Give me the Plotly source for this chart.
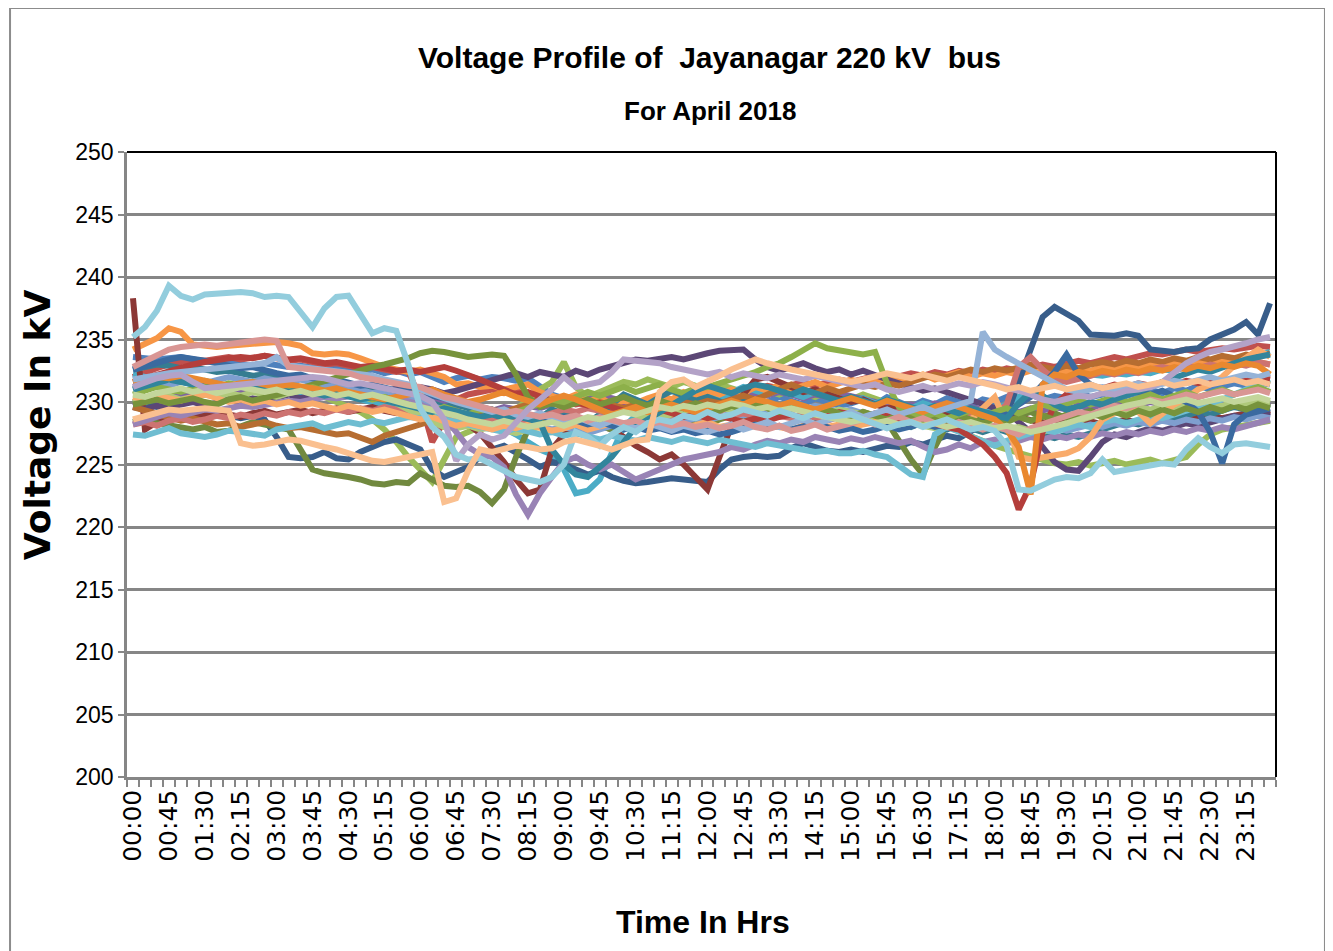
import plotly.graph_objects as go

# ---- categories (15-minute blocks) ----
times = [f"{h:02d}:{m:02d}" for h in range(24) for m in (0, 15, 30, 45)]
tick_labels = [t if i % 3 == 0 else "" for i, t in enumerate(times)]

# ---- series values (kV), one list per day ----
d01 = [233.6,233.5,233.4,233.5,233.6,233.4,233.2,233.3,233.2,233.0,232.9,233.1,
       233.0,232.8,232.9,232.7,232.6,232.8,232.5,232.4,232.6,232.3,232.5,232.2,
       232.4,232.0,231.6,231.9,232.1,231.8,232.0,231.9,231.7,231.9,231.2,230.6,
       230.3,230.0,229.8,230.1,229.6,229.9,229.5,229.7,229.3,229.8,229.6,229.4,
       229.7,229.5,229.9,230.2,229.8,230.0,230.4,230.1,229.8,230.3,230.0,229.7,
       229.9,230.2,229.8,230.4,230.0,229.6,230.1,229.8,230.3,230.0,229.7,230.2,
       230.0,230.4,230.1,230.6,230.2,230.5,230.3,230.8,230.4,230.6,230.9,230.5,
       230.8,231.0,230.7,231.1,230.9,231.3,231.0,231.2,231.5,231.3,231.6,231.4]
d02 = [232.0,232.4,232.7,233.0,233.2,233.4,233.3,233.5,233.6,233.4,233.5,233.7,
       233.5,233.3,233.4,233.2,233.0,233.1,232.9,232.7,232.8,232.6,232.4,232.5,
       230.2,226.8,228.4,230.2,230.6,230.8,231.0,230.7,230.9,230.5,230.2,230.4,
       230.1,229.8,230.0,229.7,229.4,229.6,229.3,229.5,229.2,229.0,229.3,229.6,
       229.9,230.2,230.5,230.8,231.0,231.3,231.1,231.4,231.6,231.3,231.5,231.8,
       231.6,231.9,232.1,231.8,232.0,232.3,232.1,232.4,232.2,232.5,232.3,232.6,
       232.4,232.7,232.5,232.8,233.0,232.8,233.1,233.3,233.1,233.4,233.6,233.4,
       233.7,233.9,233.8,234.0,234.2,234.0,234.1,234.3,234.2,234.4,234.5,234.4]
d03 = [230.0,230.3,230.6,230.4,230.7,230.9,230.6,230.8,231.1,230.9,231.2,231.0,
       230.8,231.1,230.9,230.6,230.4,230.0,229.6,229.2,228.6,227.8,226.8,225.6,
       224.6,223.6,225.4,227.2,227.6,228.0,228.4,228.8,229.4,230.2,231.0,231.6,
       233.2,231.2,230.4,230.8,231.2,231.6,231.4,231.8,231.5,231.2,231.6,231.3,
       231.0,231.4,231.1,230.8,231.2,230.9,230.6,231.0,230.7,230.4,230.8,230.5,
       230.2,230.6,230.3,230.0,229.6,229.2,228.8,228.4,228.0,227.6,227.2,226.8,
       226.5,226.2,225.9,225.6,225.3,225.1,225.0,225.2,224.9,225.1,225.3,225.0,
       225.2,225.4,225.1,225.3,225.6,226.6,227.4,227.8,228.0,228.2,228.4,228.5]
d04 = [230.0,229.8,230.1,230.3,230.5,230.4,230.6,230.8,230.7,231.0,230.9,231.1,
       231.0,230.8,231.0,230.7,230.9,230.6,230.8,230.5,230.3,230.5,230.2,230.0,
       229.8,230.1,229.9,229.6,229.8,229.5,229.3,229.6,229.4,229.7,229.5,229.8,
       230.1,229.9,230.2,230.5,230.3,230.0,229.8,230.1,229.9,230.2,230.4,230.2,
       230.5,230.3,230.6,230.4,230.7,230.5,230.8,230.6,230.3,230.6,230.4,230.7,
       230.5,230.2,230.0,229.7,229.5,229.8,229.6,229.9,229.7,229.4,229.6,229.3,
       229.1,229.4,229.2,229.5,229.3,229.6,229.4,229.7,229.5,229.8,229.6,229.9,
       229.7,230.0,229.8,229.6,229.4,229.7,229.5,229.8,229.6,229.9,229.7,230.0]
d05 = [232.2,232.0,231.8,231.9,231.6,231.4,231.6,231.3,231.1,231.3,231.0,230.8,
       231.0,230.7,230.5,230.8,230.6,230.3,230.5,230.2,230.0,229.7,229.9,229.6,
       229.4,229.1,228.8,228.5,228.7,228.4,228.2,227.9,227.4,226.8,226.2,225.8,
       224.6,222.7,222.9,223.8,225.8,228.0,228.9,229.4,229.8,230.2,229.9,230.4,
       230.6,230.3,230.8,231.2,230.9,230.6,231.0,230.7,230.4,230.8,230.5,230.2,
       230.0,230.3,229.9,230.2,229.8,229.5,229.9,229.6,229.3,229.7,229.4,229.1,
       229.5,229.8,230.4,230.8,231.2,231.5,231.8,232.0,232.2,232.1,232.3,232.2,
       232.4,232.3,232.6,232.5,232.8,232.7,233.0,232.9,233.2,233.5,233.8,234.0]
d06 = [234.2,234.6,235.1,235.9,235.6,234.6,234.5,234.4,234.5,234.6,234.7,234.8,
       234.8,234.7,234.5,233.9,233.8,233.9,233.8,233.5,233.1,232.8,232.6,232.4,
       232.6,232.3,232.0,231.4,231.5,231.2,231.3,231.0,231.2,231.4,230.8,230.5,
       230.2,230.6,230.0,230.4,229.8,230.1,229.9,230.3,230.6,230.2,230.8,230.4,
       230.9,230.6,231.0,230.7,231.2,230.9,231.4,231.0,231.3,231.6,231.2,231.5,
       231.8,231.4,231.7,232.0,231.6,231.9,232.2,231.8,232.1,232.4,232.0,232.3,
       232.1,232.4,232.2,232.5,232.3,232.6,232.4,232.7,232.5,232.8,232.6,232.9,
       232.7,233.0,232.8,233.1,232.9,233.2,233.0,233.3,233.1,233.4,233.2,233.0]
d07 = [230.2,230.0,229.6,229.2,228.8,229.0,229.3,229.1,228.9,228.7,228.9,228.6,
       227.2,225.6,225.5,225.6,226.0,225.5,225.4,226.0,226.4,226.8,227.0,226.6,
       226.2,224.6,224.0,224.4,224.8,225.6,226.2,226.5,226.0,225.4,224.8,225.2,
       225.0,224.6,224.2,224.5,224.0,223.7,223.5,223.6,223.8,223.9,223.8,223.7,
       223.6,224.6,225.4,225.6,225.7,225.6,225.7,226.3,226.7,226.4,226.1,226.0,
       226.2,226.0,226.3,226.5,226.4,226.8,226.6,227.0,227.3,227.1,227.6,228.2,
       227.8,229.0,231.6,234.2,236.8,237.6,237.0,236.5,235.4,235.3,235.3,235.5,
       235.3,234.2,234.1,234.0,234.2,234.3,235.0,235.4,235.8,236.4,235.4,237.9]
d08 = [238.3,227.8,228.4,228.8,229.0,228.7,228.9,229.2,229.0,228.8,229.1,229.3,
       229.0,229.2,229.4,229.1,229.3,229.5,229.2,229.4,229.6,229.3,229.1,229.4,
       229.2,228.9,229.1,228.6,228.2,227.5,226.4,225.2,223.8,222.7,223.0,226.2,
       227.4,228.0,228.4,228.1,227.8,227.2,226.5,226.0,225.4,225.8,225.0,224.0,
       223.0,225.6,228.0,230.6,231.8,232.0,231.6,231.2,230.8,231.0,230.6,230.3,
       230.0,230.2,229.8,229.5,229.7,229.4,229.1,229.3,229.0,228.8,229.1,228.7,
       228.9,228.6,228.8,228.5,228.3,228.6,228.4,228.7,228.5,228.2,228.4,228.6,
       228.3,228.5,228.7,228.4,228.6,228.8,229.0,228.7,228.9,229.1,229.3,229.0]
d09 = [228.4,228.6,228.3,228.1,227.9,227.8,228.0,227.6,227.7,228.1,228.4,228.2,
       228.0,227.8,226.2,224.6,224.3,224.2,224.0,223.8,223.5,223.4,223.6,223.5,
       224.3,223.8,223.3,223.2,223.3,222.8,221.9,223.0,225.6,227.8,228.2,228.6,
       228.3,228.0,228.4,228.1,227.8,228.2,228.5,228.3,228.0,228.4,228.7,228.5,
       228.2,228.6,228.9,228.7,228.4,228.8,229.1,228.9,228.6,229.0,229.3,229.1,
       228.8,229.2,228.9,228.4,226.8,225.4,224.2,226.4,228.2,228.6,228.9,228.5,
       228.8,228.6,228.9,229.2,228.8,229.1,228.7,229.0,229.3,228.9,229.2,229.0,
       229.3,229.1,229.4,229.2,229.5,229.3,229.6,229.4,229.7,229.5,229.8,229.6]
d10 = [229.6,229.4,229.7,229.5,229.8,230.0,229.7,229.9,230.2,230.0,230.3,230.1,
       230.4,230.6,230.3,230.5,230.8,230.6,230.9,230.7,231.0,230.8,231.1,230.9,
       231.2,231.0,230.7,230.9,231.2,231.5,231.8,232.1,232.3,232.0,232.4,232.2,
       232.0,232.5,232.2,232.6,232.9,233.2,233.4,233.3,233.5,233.6,233.4,233.7,
       233.9,234.1,234.2,234.2,233.4,232.8,232.5,232.8,233.1,232.7,232.4,232.6,
       232.2,232.5,232.1,231.8,231.5,231.2,230.9,231.1,230.8,230.5,230.2,229.8,
       229.5,229.2,228.4,227.6,226.4,225.2,224.6,224.5,225.6,226.8,227.4,227.2,
       227.6,227.9,227.7,228.0,228.3,228.1,228.4,228.6,228.9,228.7,229.0,229.2]
d11 = [232.6,232.8,233.0,232.9,232.7,232.8,232.6,232.4,232.5,232.3,232.1,232.2,
       232.0,231.8,231.9,231.6,231.4,231.5,231.2,231.0,230.8,230.9,230.6,230.4,
       230.2,229.9,229.6,229.8,229.5,229.2,229.4,229.1,228.8,229.0,228.7,229.4,
       229.0,228.6,228.3,229.0,229.8,230.6,230.2,229.8,230.4,230.9,230.5,230.1,
       230.4,230.0,229.7,230.1,229.8,229.5,229.2,229.6,229.3,229.0,229.4,229.1,
       228.8,228.5,228.9,228.6,228.3,228.0,228.4,228.1,227.8,228.2,227.9,227.6,
       227.9,227.6,227.3,227.6,227.3,227.1,227.4,227.2,227.5,227.8,228.1,228.4,
       228.2,228.5,228.8,228.6,228.9,229.2,229.0,229.3,229.6,229.4,229.7,229.5]
d12 = [229.6,229.3,229.0,228.8,228.5,228.7,228.4,228.2,228.3,228.0,228.2,228.4,
       228.1,227.9,228.0,227.8,227.6,227.4,227.5,227.2,226.8,227.3,227.6,227.9,
       228.2,228.5,228.3,228.6,228.8,229.1,229.4,229.2,229.5,229.8,230.1,229.9,
       230.2,230.0,229.7,230.0,229.8,229.5,229.8,229.6,229.9,229.7,230.0,229.8,
       230.1,229.9,230.2,230.5,230.2,230.6,230.9,231.4,231.0,230.7,231.1,230.8,
       231.1,231.4,231.2,231.5,231.3,231.6,231.9,232.2,232.0,232.3,232.6,232.4,
       232.7,232.5,232.8,233.0,232.8,232.6,232.9,232.7,233.0,233.2,233.0,233.3,
       233.1,233.4,233.2,233.5,233.3,233.6,233.4,233.7,233.5,233.8,233.6,233.9]
d13 = [231.4,231.2,231.5,231.3,231.6,231.8,231.5,231.7,232.0,231.8,231.6,231.9,
       231.7,231.5,231.8,231.6,231.3,231.5,231.2,231.0,230.7,230.9,230.6,230.3,
       230.0,229.7,229.4,229.1,228.8,228.5,228.7,228.4,228.1,228.3,228.0,227.8,
       228.0,227.7,227.5,227.8,228.1,227.9,228.2,228.5,228.3,228.6,228.4,228.7,
       228.5,228.8,229.1,228.9,229.2,229.0,229.3,229.6,229.4,229.7,229.5,229.2,
       229.4,229.1,228.8,229.0,228.7,228.4,228.6,228.3,228.5,228.2,227.9,228.1,
       227.8,228.0,227.7,227.5,227.8,228.0,227.7,227.9,228.2,228.0,228.3,228.1,
       228.4,228.2,228.5,228.3,228.6,228.4,228.7,228.5,228.8,228.6,228.9,228.7]
d14 = [228.2,228.4,228.1,228.5,228.7,228.4,228.6,228.9,228.7,229.0,228.8,229.1,
       228.9,229.2,229.0,229.3,229.1,229.4,229.2,229.5,229.3,229.6,229.4,229.2,
       229.0,228.8,229.0,228.7,228.5,228.8,228.6,228.4,228.7,228.5,228.8,229.1,
       229.4,229.2,229.5,229.3,229.0,229.3,229.1,228.8,229.1,228.9,229.2,229.0,
       228.7,229.0,228.8,229.1,228.9,228.6,228.9,228.7,229.0,228.8,228.5,228.8,
       228.6,228.9,228.7,229.0,229.2,228.9,228.6,228.4,228.1,228.5,228.8,229.2,
       229.0,229.8,232.8,233.6,232.6,231.8,231.6,231.8,232.1,232.4,232.2,232.5,
       232.3,232.6,232.8,232.6,232.9,232.7,233.0,232.8,233.1,232.9,233.2,233.0]
d15 = [230.2,230.0,230.3,230.5,230.2,230.4,230.6,230.4,230.7,230.5,230.8,230.6,
       230.4,230.7,230.9,231.1,230.8,231.0,230.7,230.5,230.2,230.4,229.9,229.4,
       228.8,228.4,228.0,227.9,228.1,227.8,228.0,227.7,227.5,227.8,228.0,227.6,
       227.9,228.2,228.0,228.3,228.5,228.2,228.6,228.9,228.7,229.0,229.3,229.1,
       229.4,229.6,229.3,229.5,229.8,229.5,229.7,229.4,229.6,229.3,229.1,229.4,
       229.2,229.0,228.8,228.6,228.4,228.2,228.0,227.9,228.2,228.4,228.1,228.3,
       228.0,227.8,228.0,227.7,227.6,227.9,228.2,228.5,228.8,229.1,229.4,229.3,
       229.6,229.4,229.7,229.5,229.8,229.6,229.9,229.7,230.0,229.8,230.1,229.9]
d16 = [228.2,228.5,228.8,229.1,228.9,229.2,229.4,229.3,229.5,229.7,229.6,229.8,
       229.9,230.1,230.0,230.2,230.4,230.3,230.5,230.6,230.4,230.2,230.3,230.1,
       229.8,229.4,228.8,227.6,226.4,225.8,225.6,224.8,222.6,221.0,222.7,224.0,
       225.2,225.6,225.0,224.6,225.0,224.4,223.8,224.2,224.6,225.0,225.4,225.6,
       225.8,226.0,226.4,226.2,226.6,226.9,226.7,227.0,226.8,227.2,227.0,226.8,
       227.1,226.9,227.2,227.0,226.7,226.9,226.4,226.0,226.2,226.6,226.3,226.8,
       227.0,226.7,226.9,227.2,227.0,227.3,227.1,227.4,227.2,227.5,227.3,227.6,
       227.4,227.7,227.5,227.8,227.6,227.9,227.7,228.0,227.8,228.1,228.3,228.6]
d17 = [227.4,227.3,227.6,227.9,227.5,227.3,227.2,227.4,227.7,227.6,227.4,227.3,
       227.8,228.0,228.2,228.3,227.9,228.1,228.4,228.2,228.5,228.3,228.6,228.8,
       228.7,228.9,228.6,228.4,228.2,228.0,227.8,227.6,227.9,227.7,227.4,227.6,
       227.3,227.5,227.2,227.0,227.3,227.1,226.9,227.2,227.0,226.8,227.1,226.9,
       226.7,227.0,226.8,226.6,226.4,226.7,226.5,226.3,226.2,226.0,226.1,225.9,
       225.9,226.1,225.8,225.6,224.9,224.2,224.0,227.4,228.0,227.6,227.2,226.8,
       226.5,226.9,227.2,227.5,227.8,227.6,227.9,228.2,228.0,228.4,228.6,228.3,
       228.6,228.9,228.7,229.0,229.2,229.5,229.8,230.2,230.6,231.0,231.4,231.8]
d18 = [230.4,230.2,230.5,230.3,230.1,230.4,230.6,230.3,230.0,230.2,229.9,230.1,
       229.8,230.0,229.7,229.9,229.6,229.4,229.7,229.5,229.2,229.4,229.1,228.9,
       228.6,228.8,228.4,228.1,228.3,228.0,227.8,228.1,227.9,228.2,228.0,227.7,
       227.9,228.2,227.8,228.0,228.3,227.9,228.1,227.8,228.0,228.2,227.9,228.1,
       228.4,228.0,228.2,227.9,228.1,228.3,228.0,227.8,228.1,228.3,228.0,228.2,
       228.0,228.2,228.4,228.3,228.8,229.1,229.4,229.0,228.5,228.0,228.6,229.5,
       230.4,228.2,225.6,225.4,225.6,225.7,225.9,226.3,227.2,228.6,229.1,229.8,
       229.2,228.3,229.0,229.8,230.3,231.0,231.4,232.0,232.9,233.6,234.2,233.6]
d19 = [232.6,232.9,233.2,233.4,233.6,233.5,233.3,233.1,232.9,232.7,232.8,232.5,
       232.3,232.1,232.2,231.9,231.7,231.8,231.5,231.3,231.4,231.1,230.9,231.0,
       230.7,230.5,230.3,230.0,229.8,229.6,229.4,229.2,229.0,228.7,228.9,228.6,
       228.8,228.5,228.2,228.4,228.1,227.8,228.0,227.7,227.9,227.6,227.8,227.5,
       227.7,227.4,227.6,227.9,228.2,227.9,228.1,227.8,228.0,228.3,228.0,227.7,
       227.9,227.6,227.8,228.1,227.8,228.0,228.3,228.0,228.2,228.5,228.2,228.4,
       228.7,229.2,229.8,230.4,231.4,232.4,233.8,232.2,231.4,231.0,230.8,231.1,
       230.8,230.6,230.9,230.4,230.0,229.2,227.6,225.1,228.2,229.0,229.3,229.5]
d20 = [231.6,231.9,232.2,232.5,232.8,233.0,233.2,233.4,233.5,233.6,233.5,233.7,
       233.6,233.4,233.5,233.3,233.1,233.2,233.0,232.8,232.9,232.7,232.5,232.6,
       232.4,232.6,232.8,232.5,232.2,231.8,231.4,231.0,230.6,230.8,230.4,230.1,
       230.3,230.0,229.7,229.9,229.6,229.3,229.5,229.2,229.4,229.1,228.8,229.0,
       228.7,228.9,228.6,228.4,228.7,228.5,228.8,229.0,228.7,229.1,228.9,229.2,
       229.0,228.8,229.1,228.9,228.6,228.8,228.5,228.2,228.0,227.8,227.2,226.6,
       225.6,224.3,221.4,223.4,227.6,229.8,230.6,231.0,231.3,231.1,231.4,231.2,
       231.5,231.3,231.6,231.4,231.7,231.5,231.8,231.6,231.9,231.7,232.0,231.8]
d21 = [229.8,230.0,230.2,229.9,230.1,230.3,230.0,229.8,230.2,230.4,230.1,230.3,
       230.6,230.8,231.1,231.4,231.6,231.9,232.2,232.6,232.8,233.0,233.2,233.5,
       233.9,234.1,234.0,233.8,233.6,233.7,233.8,233.7,232.2,230.4,229.6,229.9,
       229.6,229.9,230.2,229.8,230.1,230.4,230.0,229.7,230.1,229.8,229.5,229.9,
       229.6,229.3,229.7,229.4,229.8,229.5,229.2,229.6,229.3,229.0,229.4,229.1,
       228.8,229.2,228.9,228.6,229.0,228.7,228.4,228.8,228.5,228.9,228.6,228.3,
       228.7,228.4,228.8,228.5,228.9,228.6,229.0,228.7,229.1,228.8,229.2,228.9,
       229.3,229.0,229.4,229.1,229.5,229.2,229.6,229.3,229.7,229.4,229.8,229.5]
d22 = [230.6,230.9,231.2,231.0,230.8,231.1,231.4,231.2,231.5,231.3,231.1,231.4,
       231.6,231.3,231.0,231.2,230.9,230.6,230.8,230.5,230.2,230.4,230.1,229.8,
       229.5,229.2,229.6,229.3,229.0,229.4,229.1,228.8,229.2,229.5,229.9,230.2,
       230.0,230.4,230.8,230.5,230.9,231.2,230.8,231.1,231.4,231.0,230.7,231.1,
       231.2,231.5,231.8,232.0,232.4,232.8,233.1,233.6,234.1,234.7,234.3,234.1,
       233.9,233.8,234.0,231.5,229.6,229.2,228.8,229.1,228.7,229.0,229.3,228.9,
       229.2,229.5,229.1,229.4,229.8,229.5,229.9,230.2,229.8,230.1,230.4,230.0,
       230.3,230.6,230.2,230.5,230.8,230.4,230.7,231.0,230.6,230.9,231.2,230.8]
d23 = [231.0,231.3,231.5,231.8,231.6,231.4,231.7,231.5,231.2,231.4,231.1,231.3,
       231.0,230.8,231.0,230.7,230.5,230.7,230.4,230.2,230.4,230.1,229.9,229.7,
       229.4,229.2,229.5,229.3,229.0,228.8,229.0,228.7,228.9,228.6,228.4,226.2,
       225.0,224.2,224.0,224.8,225.6,226.8,228.0,228.6,229.2,229.8,230.4,230.9,
       231.3,231.0,230.7,231.1,231.4,231.2,230.9,230.6,231.0,230.7,230.4,230.1,
       230.4,230.1,229.8,230.2,229.9,229.6,229.3,229.7,229.4,229.1,229.5,229.2,
       229.0,228.7,229.9,230.8,230.5,229.8,229.4,229.6,230.0,229.8,230.2,230.5,
       230.8,231.2,231.6,231.9,232.3,232.6,232.4,232.8,233.1,233.4,233.6,233.8]
d24 = [231.6,231.8,232.0,231.9,232.1,231.9,231.7,231.5,231.3,231.5,231.6,231.4,
       231.2,231.4,231.3,231.1,230.9,231.1,230.8,230.6,230.4,230.2,230.4,230.6,
       230.8,231.0,230.6,230.3,230.0,230.2,230.5,230.8,230.4,230.1,229.8,230.2,
       230.5,230.2,229.8,229.4,229.0,229.3,229.6,229.2,229.5,229.8,229.5,229.2,
       229.5,229.8,230.1,229.8,230.2,230.0,229.7,230.0,229.7,229.4,229.7,230.0,
       230.3,230.0,229.7,230.1,229.8,229.5,229.2,229.6,229.9,229.6,229.3,229.0,
       228.6,227.8,226.4,222.6,231.4,232.2,232.0,232.4,232.2,232.5,232.3,232.6,
       232.4,232.7,232.5,232.8,232.6,232.9,232.7,233.0,232.8,233.1,232.9,232.2]
d25 = [231.8,232.0,232.2,232.3,232.4,232.5,232.6,232.7,232.8,232.9,233.0,233.1,
       233.6,232.9,232.8,232.7,232.6,232.5,232.4,232.3,232.1,231.8,231.6,231.4,
       231.0,230.6,230.3,230.0,229.7,229.5,229.2,229.4,229.0,228.8,229.1,228.7,
       228.5,228.8,228.4,228.1,228.5,228.2,227.9,228.3,228.0,227.7,228.1,227.8,
       227.6,227.9,228.2,227.8,228.1,228.4,228.0,228.3,228.6,228.2,228.5,228.9,
       229.2,228.8,229.1,229.4,229.0,229.3,229.6,229.2,229.5,229.8,230.1,235.6,
       234.2,233.6,233.1,232.6,232.0,231.5,231.0,230.8,231.0,231.2,231.0,231.3,
       231.5,231.2,231.4,231.7,231.5,231.8,232.0,231.7,231.9,232.2,232.0,232.3]
d26 = [232.8,233.3,233.8,234.2,234.4,234.5,234.6,234.5,234.6,234.8,234.9,235.0,
       234.9,232.8,232.7,232.6,232.5,232.4,232.3,232.0,231.8,231.6,231.5,231.3,
       231.2,230.8,230.4,230.2,229.9,229.6,229.4,229.1,229.3,229.0,228.8,229.0,
       228.7,228.9,228.5,228.8,228.6,228.3,228.5,228.2,228.4,228.1,228.3,228.0,
       228.2,227.9,228.1,228.4,228.0,227.8,228.1,227.7,227.9,228.2,227.8,228.0,
       228.3,228.6,228.2,228.5,228.8,228.4,228.7,228.3,228.0,228.4,228.1,227.8,
       228.1,227.7,227.4,227.9,228.2,228.6,228.9,229.2,229.0,229.4,229.7,229.5,
       229.9,230.2,230.0,230.3,230.6,230.4,230.7,230.9,230.6,230.8,231.0,230.7]
d27 = [230.6,230.4,230.7,230.9,231.1,230.8,231.0,230.7,230.9,231.2,231.0,230.8,
       231.0,230.7,230.9,230.6,230.8,230.5,230.7,230.4,230.6,230.3,230.0,229.8,
       229.6,229.4,229.1,228.9,228.6,228.4,228.2,228.5,228.3,228.0,228.2,228.4,
       228.1,228.5,228.8,228.6,228.9,229.2,229.0,229.3,229.6,229.4,229.7,229.5,
       229.8,229.6,229.9,229.7,229.4,229.6,229.3,229.5,229.2,229.0,228.8,228.6,
       228.4,228.6,228.3,228.5,228.2,228.4,228.1,228.3,228.0,228.2,228.4,228.1,
       227.9,228.1,227.8,227.6,227.8,228.0,228.3,228.6,228.9,229.2,229.4,229.7,
       229.9,230.1,229.8,230.0,230.2,229.9,230.1,230.3,230.0,230.2,230.4,230.1]
d28 = [231.2,231.6,231.9,232.1,232.2,231.6,231.1,231.2,231.3,231.4,231.5,231.6,
       231.7,231.8,231.9,232.0,231.9,231.7,231.4,231.5,231.3,231.2,231.0,230.8,
       230.5,230.0,228.6,225.3,226.6,227.4,227.0,227.3,228.4,229.4,230.2,231.0,
       232.0,231.2,231.4,231.6,232.4,233.4,233.3,233.2,233.1,232.8,232.6,232.4,
       232.2,232.4,232.0,232.3,232.1,231.9,232.2,232.0,231.8,232.1,231.9,231.7,
       231.5,231.2,231.4,231.0,230.8,231.1,231.3,231.0,231.2,231.5,231.3,231.6,
       231.4,231.2,230.9,230.6,230.2,230.0,230.3,230.5,230.4,230.7,230.6,230.9,
       231.0,231.2,231.6,232.4,233.1,233.6,234.0,234.2,234.4,234.7,235.0,235.2]
d29 = [235.2,236.0,237.3,239.3,238.5,238.2,238.6,238.7,238.7,238.8,238.7,238.4,
       238.5,238.4,237.2,236.0,237.5,238.4,238.5,237.0,235.5,235.9,235.7,233.0,
       229.5,228.0,227.2,225.8,225.4,225.5,225.0,224.5,224.0,223.8,223.6,224.0,
       225.0,227.6,227.2,226.5,227.4,228.0,227.6,228.3,228.6,228.4,228.9,228.7,
       229.2,228.8,229.0,229.4,229.1,228.9,229.3,229.0,228.7,229.1,228.8,228.9,
       229.0,228.6,228.3,227.9,228.2,228.4,228.0,228.3,228.6,228.2,227.8,228.0,
       227.7,226.5,223.0,222.9,223.4,223.8,224.0,223.9,224.3,225.4,224.4,224.6,
       224.8,225.0,225.1,225.0,226.2,227.1,226.4,225.9,226.6,226.7,226.5,226.4]
d30 = [228.6,228.9,229.2,229.4,229.3,229.4,229.5,229.4,229.3,226.7,226.5,226.6,
       226.8,227.0,226.9,226.6,226.4,226.2,225.9,225.6,225.3,225.2,225.4,225.6,
       225.9,226.0,222.0,222.3,224.5,226.2,226.0,226.3,226.5,226.4,226.2,226.3,
       226.8,227.0,226.8,226.5,226.2,226.6,226.9,227.0,230.8,231.6,231.8,231.2,
       231.6,232.1,232.6,233.0,233.4,233.1,232.8,232.6,232.4,232.2,232.0,231.8,
       231.6,231.8,232.0,232.3,232.1,231.9,232.2,232.0,231.7,232.0,231.8,231.5,
       231.3,231.0,231.2,230.9,231.1,231.3,231.0,231.2,231.4,231.1,231.3,231.5,
       231.2,231.4,231.6,231.3,231.5,231.7,231.4,231.6,231.8,231.5,231.7,231.4]

days = [d01, d02, d03, d04, d05, d06, d07, d08, d09, d10,
        d11, d12, d13, d14, d15, d16, d17, d18, d19, d20,
        d21, d22, d23, d24, d25, d26, d27, d28, d29, d30]
day_names = [f"{i:02d}-04-2018" for i in range(1, 31)]

colors = ["#4F81BD", "#C0504D", "#9BBB59", "#8064A2", "#4BACC6", "#F79646",
          "#385D8A", "#8C3836", "#71893F", "#5C4776", "#357D91", "#B66D31",
          "#7F9FCF", "#CD7371", "#AFC97A", "#9983B5", "#6FBDD1", "#F9AB6B",
          "#3A6AA0", "#B43E3B", "#77933C", "#8DB04A", "#31859C", "#E9882F",
          "#95B3D7", "#D99694", "#C3D69B", "#B3A2C7", "#93CDDD", "#FAC090"]

fig = go.Figure()
for name, vals, col in zip(day_names, days, colors):
    fig.add_trace(go.Scatter(x=times, y=vals, mode="lines", name=name,
                             line=dict(color=col, width=6), showlegend=False))

narrow = "Liberation Sans Narrow, Arial Narrow, Liberation Sans, Arial, sans-serif"
grey = "#868686"

# page body has an 8px margin, so the figure is drawn 8px smaller
fig.update_layout(
    width=1325, height=943,
    paper_bgcolor="white", plot_bgcolor="white",
    margin=dict(l=119, r=57, t=144, b=174),
    showlegend=False,
    xaxis=dict(type="category", range=[-0.5, 95.5],
               tickmode="array", tickvals=times, ticktext=tick_labels,
               tickson="boundaries", ticks="outside", ticklen=7, tickwidth=1.5,
               tickcolor=grey, tickangle=-90,
               tickfont=dict(family="DejaVu Sans, Verdana, sans-serif", size=25, color="black"),
               showline=True, linecolor=grey, linewidth=2.5, showgrid=False,
               zeroline=False),
    yaxis=dict(range=[200, 250], dtick=5, tick0=200,
               ticks="outside", ticklen=6, tickwidth=2, tickcolor=grey,
               tickfont=dict(family=narrow, size=23, color="black"),
               showline=True, linecolor=grey, linewidth=2.5,
               showgrid=True, gridcolor=grey, gridwidth=2.5, zeroline=False),
)

# plot-area top and right border (black), outer chart frame (grey)
fig.add_shape(type="line", xref="paper", yref="paper", x0=0, x1=1, y0=1, y1=1,
              line=dict(color="black", width=2))
fig.add_shape(type="line", xref="paper", yref="paper", x0=1, x1=1, y0=0, y1=1,
              line=dict(color="black", width=2))
fig.add_shape(type="rect", xref="paper", yref="paper",
              x0=-0.1018, x1=1.0426, y0=-0.32, y1=1.2304,
              line=dict(color="#8C8C8C", width=2))

fig.add_annotation(text="<b>Voltage Profile of \u00a0Jayanagar 220 kV \u00a0bus</b>",
                   xref="paper", yref="paper", x=0.507, y=1.152, showarrow=False,
                   xanchor="center", yanchor="middle",
                   font=dict(family=narrow, size=30, color="black"))
fig.add_annotation(text="<b>For April 2018</b>",
                   xref="paper", yref="paper", x=0.507, y=1.0656, showarrow=False,
                   xanchor="center", yanchor="middle",
                   font=dict(family=narrow, size=26, color="black"))
fig.add_annotation(text="<b>Voltage In kV</b>", textangle=-90,
                   xref="paper", yref="paper", x=-0.0783, y=0.563, showarrow=False,
                   xanchor="center", yanchor="middle",
                   font=dict(family="DejaVu Sans, Verdana, sans-serif", size=36, color="black"))
fig.add_annotation(text="<b>Time In Hrs</b>",
                   xref="paper", yref="paper", x=0.501, y=-0.232, showarrow=False,
                   xanchor="center", yanchor="middle",
                   font=dict(family=narrow, size=32, color="black"))

fig.write_html("out.html")
